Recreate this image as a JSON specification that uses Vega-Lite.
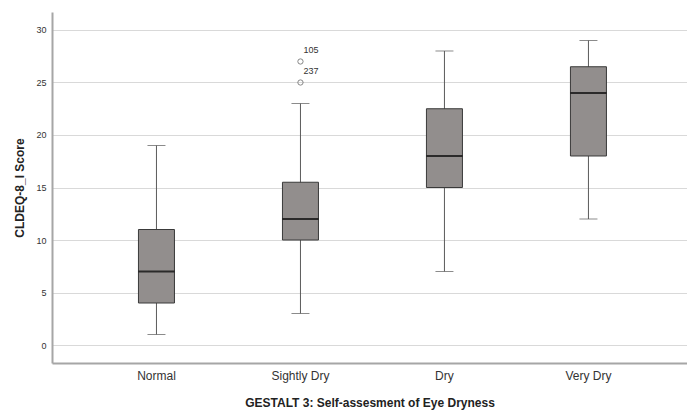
{
  "$schema": "https://vega.github.io/schema/vega-lite/v6.json",
  "width": 635,
  "height": 351,
  "autosize": {"type": "none"},
  "padding": {"left": 52, "top": 12, "right": 0, "bottom": 49},
  "background": "white",
  "config": {
    "view": {"stroke": null},
    "font": "Liberation Sans"
  },
  "datasets": {
    "boxes": [
      {"group": "Normal", "min": 1, "q1": 4, "median": 7, "q3": 11, "max": 19},
      {"group": "Sightly Dry", "min": 3, "q1": 10, "median": 12, "q3": 15.5, "max": 23},
      {"group": "Dry", "min": 7, "q1": 15, "median": 18, "q3": 22.5, "max": 28},
      {"group": "Very Dry", "min": 12, "q1": 18, "median": 24, "q3": 26.5, "max": 29}
    ],
    "outliers": [
      {"group": "Sightly Dry", "value": 27, "id": "105"},
      {"group": "Sightly Dry", "value": 25, "id": "237"}
    ]
  },
  "encoding": {
    "x": {
      "field": "group",
      "type": "nominal",
      "sort": ["Normal", "Sightly Dry", "Dry", "Very Dry"],
      "scale": {"domain": ["Normal", "Sightly Dry", "Dry", "Very Dry"], "paddingInner": 0, "paddingOuter": 0.205, "align": 0.55},
      "axis": {
        "title": "GESTALT 3: Self-assesment of Eye Dryness",
        "titleFont": "Liberation Sans",
        "titleFontSize": 12,
        "titleFontWeight": "bold",
        "titleColor": "#222222",
        "titlePadding": 16,
        "labelFont": "Liberation Sans",
        "labelFontSize": 12,
        "labelColor": "#333333",
        "labelAngle": 0,
        "labelPadding": 7,
        "ticks": false,
        "domainColor": "#a6a6a6",
        "domainWidth": 2,
        "grid": false
      }
    }
  },
  "layer": [
    {
      "data": {"name": "boxes"},
      "mark": {"type": "rule", "color": "#5a5a5a", "strokeWidth": 1},
      "encoding": {
        "y": {
          "field": "min",
          "type": "quantitative",
          "scale": {"domain": [-1.714, 31.714], "nice": false, "zero": false},
          "axis": {
            "title": "CLDEQ-8_I Score",
            "titleFont": "Liberation Sans",
            "titleFontSize": 12,
            "titleFontWeight": "bold",
            "titleColor": "#222222",
            "titlePadding": 9,
            "values": [0, 5, 10, 15, 20, 25, 30],
            "labelFont": "Liberation Sans",
            "labelFontSize": 9,
            "labelColor": "#333333",
            "labelPadding": 6,
            "ticks": false,
            "domainColor": "#a6a6a6",
            "domainWidth": 2,
            "grid": true,
            "gridColor": "#d9d9d9",
            "gridWidth": 1
          }
        },
        "y2": {"field": "max"}
      }
    },
    {
      "data": {"name": "boxes"},
      "mark": {"type": "tick", "color": "#5a5a5a", "size": 18, "thickness": 1},
      "encoding": {"y": {"field": "min", "type": "quantitative"}}
    },
    {
      "data": {"name": "boxes"},
      "mark": {"type": "tick", "color": "#5a5a5a", "size": 18, "thickness": 1},
      "encoding": {"y": {"field": "max", "type": "quantitative"}}
    },
    {
      "data": {"name": "boxes"},
      "mark": {"type": "bar", "size": 36, "fill": "#928e8d", "stroke": "#3a3a3a", "strokeWidth": 1},
      "encoding": {
        "y": {"field": "q1", "type": "quantitative"},
        "y2": {"field": "q3"}
      }
    },
    {
      "data": {"name": "boxes"},
      "mark": {"type": "tick", "color": "#000000", "size": 36, "thickness": 2},
      "encoding": {"y": {"field": "median", "type": "quantitative"}}
    },
    {
      "data": {"name": "outliers"},
      "mark": {"type": "point", "shape": "circle", "filled": false, "size": 28, "stroke": "#555555", "strokeWidth": 1},
      "encoding": {"y": {"field": "value", "type": "quantitative"}}
    },
    {
      "data": {"name": "outliers"},
      "mark": {"type": "text", "align": "left", "baseline": "middle", "dx": 3, "dy": -11, "fontSize": 9, "color": "#333333", "font": "Liberation Sans"},
      "encoding": {
        "y": {"field": "value", "type": "quantitative"},
        "text": {"field": "id"}
      }
    }
  ]
}
